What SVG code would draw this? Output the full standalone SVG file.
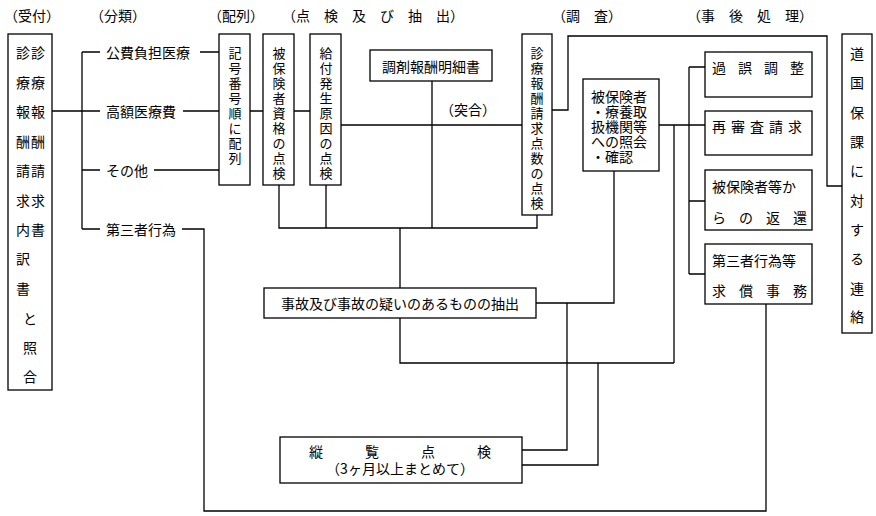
<svg xmlns="http://www.w3.org/2000/svg" width="876" height="516" viewBox="0 0 876 516">
<style>
rect{fill:#fff;stroke:#000;stroke-width:1.3}
#connectors path{fill:none;stroke:#000;stroke-width:1.3}
text{font-family:"Noto Sans CJK JP","Noto Sans CJK SC",sans-serif;font-size:14px;fill:#000;dominant-baseline:central}
.v{text-anchor:middle;font-size:13px}
</style>
<rect x="0" y="0" width="876" height="516" style="stroke:none"/>
<g id="headers">
<text x="4" y="15">（受付）</text>
<text x="90" y="15">（分類）</text>
<text x="208" y="15">（配列）</text>
<text x="282" y="15" xml:space="preserve">（点　検　及　び　抽　出）</text>
<text x="552" y="15" xml:space="preserve">（調　査）</text>
<text x="687" y="15" xml:space="preserve">（事　後　処　理）</text>
</g>
<g id="connectors">
<path d="M52,111H82M82,52V229M82,52H100M82,111H100M82,170H100M82,229H100"/>
<path d="M200,52H219M183,111H219M154,170H219M182,229H204V511H766V304"/>
<path d="M250,111H263M294,111H310M341,125H522"/>
<path d="M432,81V228M279,185V228H537V215M326,185V228M400,228V288"/>
<path d="M552,110H568V36H827V186H842"/>
<path d="M536,303H614V171M659,125H705M689,67V274M689,67H705M689,201H705M689,274H705M674,125V363"/>
<path d="M400,318V363H674M567,303V450H522M598,363V465H522"/>
</g>
<g id="uketsuke"><rect x="8" y="34" width="44" height="356"/>
<g style="text-anchor:middle">
<text x="23" y="52">診</text><text x="23" y="82">療</text><text x="23" y="111">報</text><text x="23" y="141">酬</text><text x="23" y="170">請</text><text x="23" y="200">求</text><text x="23" y="229">内</text><text x="23" y="258">訳</text><text x="23" y="288">書</text>
<text x="38" y="52">診</text><text x="38" y="82">療</text><text x="38" y="111">報</text><text x="38" y="141">酬</text><text x="38" y="170">請</text><text x="38" y="200">求</text><text x="38" y="229">書</text>
<text x="30" y="318">と</text><text x="30" y="347">照</text><text x="30" y="376">合</text>
</g></g>
<g id="bunrui">
<text x="106" y="52">公費負担医療</text>
<text x="106" y="111">高額医療費</text>
<text x="106" y="170">その他</text>
<text x="106" y="229">第三者行為</text>
</g>
<g id="hairetsu"><rect x="219" y="34" width="31" height="151"/>
<text class="v" x="235" y="52">記</text><text class="v" x="235" y="67">号</text><text class="v" x="235" y="82">番</text><text class="v" x="235" y="97">号</text><text class="v" x="235" y="112">順</text><text class="v" x="235" y="127">に</text><text class="v" x="235" y="142">配</text><text class="v" x="235" y="157">列</text></g>
<g id="shikaku"><rect x="263" y="34" width="31" height="151"/>
<text class="v" x="279" y="52">被</text><text class="v" x="279" y="67">保</text><text class="v" x="279" y="82">険</text><text class="v" x="279" y="97">者</text><text class="v" x="279" y="112">資</text><text class="v" x="279" y="127">格</text><text class="v" x="279" y="142">の</text><text class="v" x="279" y="157">点</text><text class="v" x="279" y="172">検</text></g>
<g id="genin"><rect x="310" y="34" width="31" height="151"/>
<text class="v" x="326" y="52">給</text><text class="v" x="326" y="67">付</text><text class="v" x="326" y="82">発</text><text class="v" x="326" y="97">生</text><text class="v" x="326" y="112">原</text><text class="v" x="326" y="127">因</text><text class="v" x="326" y="142">の</text><text class="v" x="326" y="157">点</text><text class="v" x="326" y="172">検</text></g>
<g id="chozai"><rect x="370" y="50" width="122" height="31"/><text x="431" y="66" style="text-anchor:middle">調剤報酬明細書</text></g>
<g id="totsugo"><text x="440" y="109">（突合）</text></g>
<g id="tensu"><rect x="522" y="34" width="30" height="181"/>
<text class="v" x="537" y="52">診</text><text class="v" x="537" y="67">療</text><text class="v" x="537" y="82">報</text><text class="v" x="537" y="97">酬</text><text class="v" x="537" y="112">請</text><text class="v" x="537" y="127">求</text><text class="v" x="537" y="142">点</text><text class="v" x="537" y="157">数</text><text class="v" x="537" y="172">の</text><text class="v" x="537" y="187">点</text><text class="v" x="537" y="202">検</text></g>
<g id="shokai"><rect x="583" y="79" width="76" height="92"/>
<text x="591" y="96">被保険者</text><text x="591" y="111">・療養取</text><text x="591" y="126">扱機関等</text><text x="591" y="141">への照会</text><text x="591" y="156">・確認</text></g>
<g id="kago"><rect x="705" y="52" width="107" height="45"/><text x="712" y="67" letter-spacing="12">過誤調整</text></g>
<g id="saishinsa"><rect x="705" y="111" width="107" height="44"/><text x="712" y="126" letter-spacing="5">再審査請求</text></g>
<g id="henkan"><rect x="705" y="170" width="107" height="60"/><text x="712" y="186">被保険者等か</text><text x="712" y="217" letter-spacing="13">らの返還</text></g>
<g id="kyusho"><rect x="705" y="244" width="107" height="60"/><text x="712" y="260">第三者行為等</text><text x="712" y="290" letter-spacing="13">求償事務</text></g>
<g id="renraku"><rect x="842" y="34" width="30" height="299"/>
<g style="text-anchor:middle">
<text x="857" y="53">道</text><text x="857" y="82">国</text><text x="857" y="112">保</text><text x="857" y="141">課</text><text x="857" y="170">に</text><text x="857" y="200">対</text><text x="857" y="229">す</text><text x="857" y="258">る</text><text x="857" y="288">連</text><text x="857" y="316">絡</text></g></g>
<g id="chushutsu"><rect x="264" y="288" width="272" height="30"/><text x="400" y="303" style="text-anchor:middle">事故及び事故の疑いのあるものの抽出</text></g>
<g id="jurann"><rect x="280" y="437" width="242" height="46"/>
<text x="400" y="451" style="text-anchor:middle" xml:space="preserve">縦　　　覧　　　点　　　検</text>
<text x="400" y="468" style="text-anchor:middle">（3ヶ月以上まとめて）</text></g>
</svg>
